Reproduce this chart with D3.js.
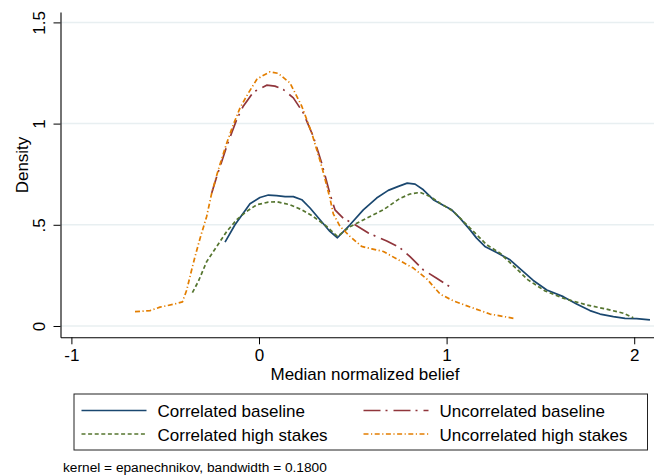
<!DOCTYPE html>
<html>
<head>
<meta charset="utf-8">
<script src="https://cdn.jsdelivr.net/npm/d3@7"></script>
<style>
  html, body { margin: 0; padding: 0; background: #ffffff; }
  svg { display: block; font-family: "Liberation Sans", Arial, Helvetica, sans-serif; }
</style>
</head>
<body>
<svg id="chart" width="654" height="476"></svg>
<script>
// ---- Data ----
const xTicks = [-1, 0, 1, 2];
const xTickLabels = ["-1", "0", "1", "2"];
const yTicks = [0, 0.5, 1, 1.5];
const yTickLabels = ["0", ".5", "1", "1.5"];
const xTitle = "Median normalized belief";
const yTitle = "Density";
const note = "kernel = epanechnikov, bandwidth = 0.1800";
const seriesNames = ["Correlated baseline", "Uncorrelated baseline", "Correlated high stakes", "Uncorrelated high stakes"];

const corrBaseX = [-0.181,-0.128,-0.048,0.005,0.050,0.094,0.139,0.183,0.228,0.272,0.325,0.378,0.418,0.485,0.556,0.627,0.689,0.743,0.790,0.832,0.876,0.929,0.982,1.027,1.071,1.125,1.160,1.204,1.267,1.338,1.409,1.462,1.534,1.622,1.693,1.764,1.818,1.889,1.951,2.013,2.084];
const corrBaseY = [0.414,0.500,0.604,0.635,0.647,0.644,0.639,0.639,0.624,0.583,0.525,0.467,0.436,0.500,0.574,0.632,0.670,0.690,0.706,0.701,0.673,0.624,0.596,0.574,0.533,0.475,0.434,0.393,0.363,0.327,0.269,0.225,0.178,0.145,0.109,0.076,0.059,0.046,0.038,0.036,0.030];

const uncorrBaseX = [-0.252,-0.225,-0.172,-0.119,-0.084,-0.030,0.041,0.085,0.130,0.183,0.236,0.289,0.334,0.378,0.405,0.449,0.512,0.583,0.681,0.752,0.805,0.876,0.947,1.036];
const uncorrBaseY = [0.657,0.739,0.888,1.020,1.086,1.156,1.190,1.185,1.168,1.127,1.053,0.937,0.805,0.653,0.574,0.533,0.500,0.459,0.420,0.386,0.343,0.277,0.236,0.183];

const corrHighX = [-0.355,-0.324,-0.279,-0.225,-0.172,-0.119,-0.066,-0.012,0.050,0.094,0.165,0.228,0.289,0.361,0.418,0.485,0.574,0.663,0.752,0.805,0.858,0.912,0.965,1.036,1.125,1.214,1.285,1.356,1.434,1.525,1.622,1.747,1.853,1.942,1.995];
const corrHighY = [0.165,0.219,0.318,0.393,0.467,0.525,0.566,0.599,0.612,0.614,0.599,0.574,0.541,0.492,0.443,0.490,0.533,0.574,0.631,0.652,0.660,0.640,0.607,0.566,0.484,0.401,0.360,0.297,0.228,0.173,0.137,0.104,0.083,0.063,0.041];

const uncorrHighX = [-0.661,-0.581,-0.528,-0.457,-0.408,-0.385,-0.368,-0.341,-0.314,-0.279,-0.252,-0.217,-0.172,-0.137,-0.101,-0.061,-0.012,0.016,0.059,0.103,0.165,0.228,0.281,0.334,0.378,0.396,0.432,0.485,0.547,0.601,0.663,0.752,0.823,0.894,0.965,1.036,1.125,1.231,1.356];
const uncorrHighY = [0.071,0.076,0.093,0.107,0.119,0.178,0.244,0.343,0.434,0.541,0.657,0.772,0.904,0.995,1.078,1.144,1.218,1.235,1.256,1.248,1.201,1.086,0.954,0.789,0.632,0.554,0.492,0.443,0.393,0.381,0.368,0.322,0.286,0.233,0.158,0.124,0.094,0.059,0.038];

// ---- Styles ----
const styles = [
  { color: "#1a476f", dash: null },
  { color: "#90353b", dash: "17,5,2,6" },
  { color: "#55752f", dash: "4,2.6" },
  { color: "#e37e00", dash: "5,2.5,1.2,2.5" }
];
const seriesData = [
  d3.zip(corrBaseX, corrBaseY),
  d3.zip(uncorrBaseX, uncorrBaseY),
  d3.zip(corrHighX, corrHighY),
  d3.zip(uncorrHighX, uncorrHighY)
];

const svg = d3.select("#chart");
const plotL = 60.5, plotR = 654, plotT = 12, plotB = 337.3;

const x = d3.scaleLinear().domain([-1.0581, 2.1055]).range([plotL, plotR]);
const y = d3.scaleLinear().domain([-0.0559, 1.5514]).range([plotB, plotT]);

// gridlines
svg.append("g").selectAll("line").data(yTicks).join("line")
  .attr("x1", plotL).attr("x2", plotR)
  .attr("y1", d => y(d)).attr("y2", d => y(d))
  .attr("stroke", "#e8eff1").attr("stroke-width", 1.5);

// curves
const line = d3.line().x(d => x(d[0])).y(d => y(d[1]));
seriesData.forEach((data, i) => {
  svg.append("path").datum(data)
    .attr("d", line)
    .attr("fill", "none")
    .attr("stroke", styles[i].color)
    .attr("stroke-width", 1.7)
    .attr("stroke-linejoin", "round")
    .attr("stroke-dasharray", styles[i].dash);
});

// axes
const yAxis = d3.axisLeft(y).tickValues(yTicks).tickSize(7).tickSizeOuter(0)
  .tickFormat((d, i) => yTickLabels[i]);
const gy = svg.append("g").attr("transform", `translate(${plotL},0)`).call(yAxis);
gy.select(".domain").attr("stroke", "#000").attr("stroke-width", 1.1);
gy.selectAll(".tick line").attr("stroke", "#000");
gy.selectAll(".tick text")
  .attr("font-size", 17).attr("font-family", "Liberation Sans, Arial, sans-serif")
  .attr("fill", "#000")
  .attr("x", null).attr("dy", null)
  .attr("text-anchor", "middle")
  .attr("transform", "translate(-15.5,0) rotate(-90)");

const xAxis = d3.axisBottom(x).tickValues(xTicks).tickSize(7).tickSizeOuter(0)
  .tickFormat((d, i) => xTickLabels[i]);
const gx = svg.append("g").attr("transform", `translate(0,${plotB})`).call(xAxis);
gx.select(".domain").attr("stroke", "#000").attr("stroke-width", 1.1);
gx.selectAll(".tick line").attr("stroke", "#000");
gx.selectAll(".tick text")
  .attr("font-size", 17).attr("font-family", "Liberation Sans, Arial, sans-serif")
  .attr("fill", "#000")
  .attr("y", 23.5).attr("dy", null);

// axis titles
svg.append("text")
  .attr("x", 365).attr("y", 379.5)
  .attr("text-anchor", "middle").attr("font-size", 17).attr("fill", "#000")
  .text(xTitle);
svg.append("text")
  .attr("transform", "translate(28,165) rotate(-90)")
  .attr("text-anchor", "middle").attr("font-size", 17).attr("fill", "#000")
  .text(yTitle);

// legend
const lg = svg.append("g");
lg.append("rect")
  .attr("x", 74).attr("y", 394).attr("width", 573.5).attr("height", 56)
  .attr("fill", "#fff").attr("stroke", "#222").attr("stroke-width", 1);
const legPos = [
  { lx: 81.5, ly: 410.5 },
  { lx: 363.5, ly: 410.5 },
  { lx: 81.5, ly: 434 },
  { lx: 363.5, ly: 434 }
];
seriesNames.forEach((name, i) => {
  const p = legPos[i];
  lg.append("line")
    .attr("x1", p.lx).attr("x2", p.lx + 65)
    .attr("y1", p.ly).attr("y2", p.ly)
    .attr("stroke", styles[i].color).attr("stroke-width", 1.7)
    .attr("stroke-dasharray", styles[i].dash);
  lg.append("text")
    .attr("x", p.lx + 76).attr("y", p.ly + 6.5)
    .attr("font-size", 17).attr("fill", "#000")
    .text(name);
});

// note
svg.append("text")
  .attr("x", 63).attr("y", 471.5)
  .attr("font-size", 13.7).attr("fill", "#000")
  .text(note);
</script>
</body>
</html>
